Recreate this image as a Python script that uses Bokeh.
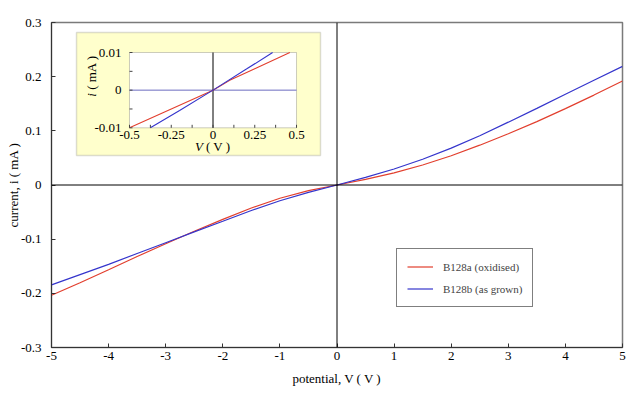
import math
from bokeh.plotting import figure
from bokeh.models import (Range1d, FixedTicker, Span, BoxAnnotation, Legend,
                          LegendItem)
from bokeh.core.properties import value
from bokeh.embed import file_html
from bokeh.resources import INLINE

# ---------------- data ----------------
V = [-5, -4.5, -4, -3.5, -3, -2.5, -2, -1.5, -1, -0.5, 0,
     0.5, 1, 1.5, 2, 2.5, 3, 3.5, 4, 4.5, 5]
I_oxidised = [-0.2035, -0.1805, -0.1565, -0.132, -0.1085, -0.0855, -0.0635,
              -0.0425, -0.0245, -0.0105, 0.0,
              0.0105, 0.0225, 0.037, 0.054, 0.0735, 0.0945, 0.117, 0.141,
              0.166, 0.192]
I_grown = [-0.1845, -0.1655, -0.1465, -0.1265, -0.1065, -0.0865, -0.067,
           -0.047, -0.029, -0.0135, 0.0,
           0.014, 0.0295, 0.0475, 0.068, 0.091, 0.116, 0.1415, 0.1675,
           0.1935, 0.219]

# inset (low-voltage detail)
inset_V_ox = [-0.5, -0.25, 0.0, 0.1, 0.25, 0.46]
inset_I_ox = [-0.01, -0.005, 0.0, 0.0026, 0.0057, 0.01]
inset_V_gr = [-0.375, -0.2, 0.0, 0.2, 0.357]
inset_I_gr = [-0.01, -0.0054, 0.0, 0.0056, 0.01]

x_ticks = [-5, -4, -3, -2, -1, 0, 1, 2, 3, 4, 5]
x_tick_labels = ["-5", "-4", "-3", "-2", "-1", "0", "1", "2", "3", "4", "5"]
y_ticks = [-0.3, -0.2, -0.1, 0, 0.1, 0.2, 0.3]
y_tick_labels = ["-0.3", "-0.2", "-0.1", "0", "0.1", "0.2", "0.3"]

inset_x_ticks = [-0.5, -0.25, 0, 0.25, 0.5]
inset_x_labels = ["-0.5", "-0.25", "0", "0.25", "0.5"]
inset_y_ticks = [-0.01, 0, 0.01]
inset_y_labels = ["-0.01", "0", "0.01"]
inset_x_minor = [-0.5, -0.375, -0.25, -0.125, 0, 0.125, 0.25, 0.375, 0.5]
inset_y_minor = [-0.01, -0.005, 0, 0.005, 0.01]
inset_x_range = [-0.5, 0.5]
inset_y_range = [-0.01, 0.01]
inset_zero = [0, 0]

series_names = ["B128a (oxidised)", "B128b (as grown)"]
x_title = "potential, V ( V )"
y_title = "current, i ( mA )"

RED = "#E23F2E"
BLUE = "#3535CC"
FONT = "Liberation Serif"

# ---------------- main figure ----------------
p = figure(width=641, height=395, output_backend="svg", toolbar_location=None,
           x_range=Range1d(-5, 5), y_range=Range1d(-0.3, 0.3),
           min_border_left=51, min_border_right=19, min_border_top=22,
           min_border_bottom=48)
p.background_fill_color = "white"
p.border_fill_color = "white"
p.outline_line_color = "#7a7a7a"
p.outline_line_width = 1.5
p.xgrid.visible = False
p.ygrid.visible = False

for ax in (p.xaxis[0], p.yaxis[0]):
    ax.major_tick_in = 4
    ax.major_tick_out = 0
    ax.minor_tick_in = 0
    ax.minor_tick_out = 0
    ax.axis_line_color = "#333333"
    ax.major_tick_line_color = "#333333"
    ax.major_label_text_font = FONT
    ax.major_label_text_font_size = "13px"
    ax.major_label_text_color = "black"
    ax.axis_label_text_font = FONT
    ax.axis_label_text_font_size = "13px"
    ax.axis_label_text_font_style = "normal"
    ax.axis_label_text_color = "black"

p.xaxis.ticker = FixedTicker(ticks=x_ticks)
p.xaxis.major_label_overrides = {t: s for t, s in zip(x_ticks, x_tick_labels)}
p.xaxis.major_label_standoff = 4
p.xaxis.axis_label = x_title
p.xaxis.axis_label_standoff = 8

p.yaxis.ticker = FixedTicker(ticks=y_ticks)
p.yaxis.major_label_overrides = {t: s for t, s in zip(y_ticks, y_tick_labels)}
p.yaxis.major_label_standoff = 10
p.yaxis.axis_label = y_title
p.yaxis.axis_label_standoff = -3

p.add_layout(Span(location=0, dimension="height", line_color="black", line_width=1))
p.add_layout(Span(location=0, dimension="width", line_color="black", line_width=1))

r_ox = p.line(V, I_oxidised, line_color=RED, line_width=1.2)
r_gr = p.line(V, I_grown, line_color=BLUE, line_width=1.2)

legend = Legend(items=[LegendItem(label=series_names[0], renderers=[r_ox]),
                       LegendItem(label=series_names[1], renderers=[r_gr])],
                location=(345, 40), orientation="vertical",
                border_line_color="black", border_line_width=1,
                background_fill_color="white", background_fill_alpha=1,
                label_text_font=FONT, label_text_font_size="11px",
                glyph_width=26, glyph_height=15, label_height=15,
                label_standoff=10, padding=10, spacing=7, margin=0)
p.add_layout(legend, "center")

# ---------------- inset ----------------
p.add_layout(BoxAnnotation(left=-4.562, right=-0.289, bottom=0.0545, top=0.2815,
                           fill_color="#FFFFCC", fill_alpha=1,
                           line_color="#8a8a8a", line_width=1.5, level="underlay"))
p.add_layout(BoxAnnotation(left=-3.634, right=-0.709, bottom=0.1056, top=0.2446,
                           fill_color="white", fill_alpha=1,
                           line_color="#555555", line_width=1, level="underlay"))

ins = p.subplot(x_source=Range1d(-0.5, 0.5), y_source=Range1d(-0.01, 0.01),
                x_target=Range1d(-3.634, -0.709), y_target=Range1d(0.1056, 0.2446))

ins.line(inset_x_range, inset_zero, line_color="#6C6CC0", line_width=1)
ins.line(inset_zero, inset_y_range, line_color="black", line_width=1)
ins.line(inset_V_ox, inset_I_ox, line_color=RED, line_width=1.1)
ins.line(inset_V_gr, inset_I_gr, line_color=BLUE, line_width=1.1)

ins.ray(x=inset_x_minor, y=[-0.01] * len(inset_x_minor), length=3,
        length_units="screen", angle=math.pi / 2, line_color="#444444")
ins.ray(x=[-0.5] * len(inset_y_minor), y=inset_y_minor, length=3,
        length_units="screen", angle=0, line_color="#444444")

ins.text(x=inset_x_ticks, y=[-0.01] * len(inset_x_ticks), text=inset_x_labels,
         text_font=value(FONT), text_font_size="13px", text_align="center",
         text_baseline="top", y_offset=3, text_color="black")
ins.text(x=[-0.5] * len(inset_y_ticks), y=inset_y_ticks, text=inset_y_labels,
         text_font=value(FONT), text_font_size="13px", text_align="right",
         text_baseline="middle", x_offset=-8, text_color="black")
# inset axis titles
ins.text(x=[0], y=[-0.01], text=["V"], text_font=value(FONT),
         text_font_size="13px", text_font_style="italic", text_align="left",
         text_baseline="middle", x_offset=-18, y_offset=19, text_color="black")
ins.text(x=[0], y=[-0.01], text=["( V )"], text_font=value(FONT),
         text_font_size="13px", text_align="left",
         text_baseline="middle", x_offset=-7, y_offset=19, text_color="black")
ins.text(x=[-0.5], y=[0.0038], text=["i"], text_font=value(FONT),
         text_font_size="13px", text_font_style="italic", text_align="left",
         text_baseline="middle", angle=math.pi / 2, x_offset=-38, y_offset=21,
         text_color="black")
ins.text(x=[-0.5], y=[0.0038], text=["( mA )"], text_font=value(FONT),
         text_font_size="13px", text_align="left",
         text_baseline="middle", angle=math.pi / 2, x_offset=-38, y_offset=14,
         text_color="black")

open("out.html", "w").write(file_html(p, INLINE))
